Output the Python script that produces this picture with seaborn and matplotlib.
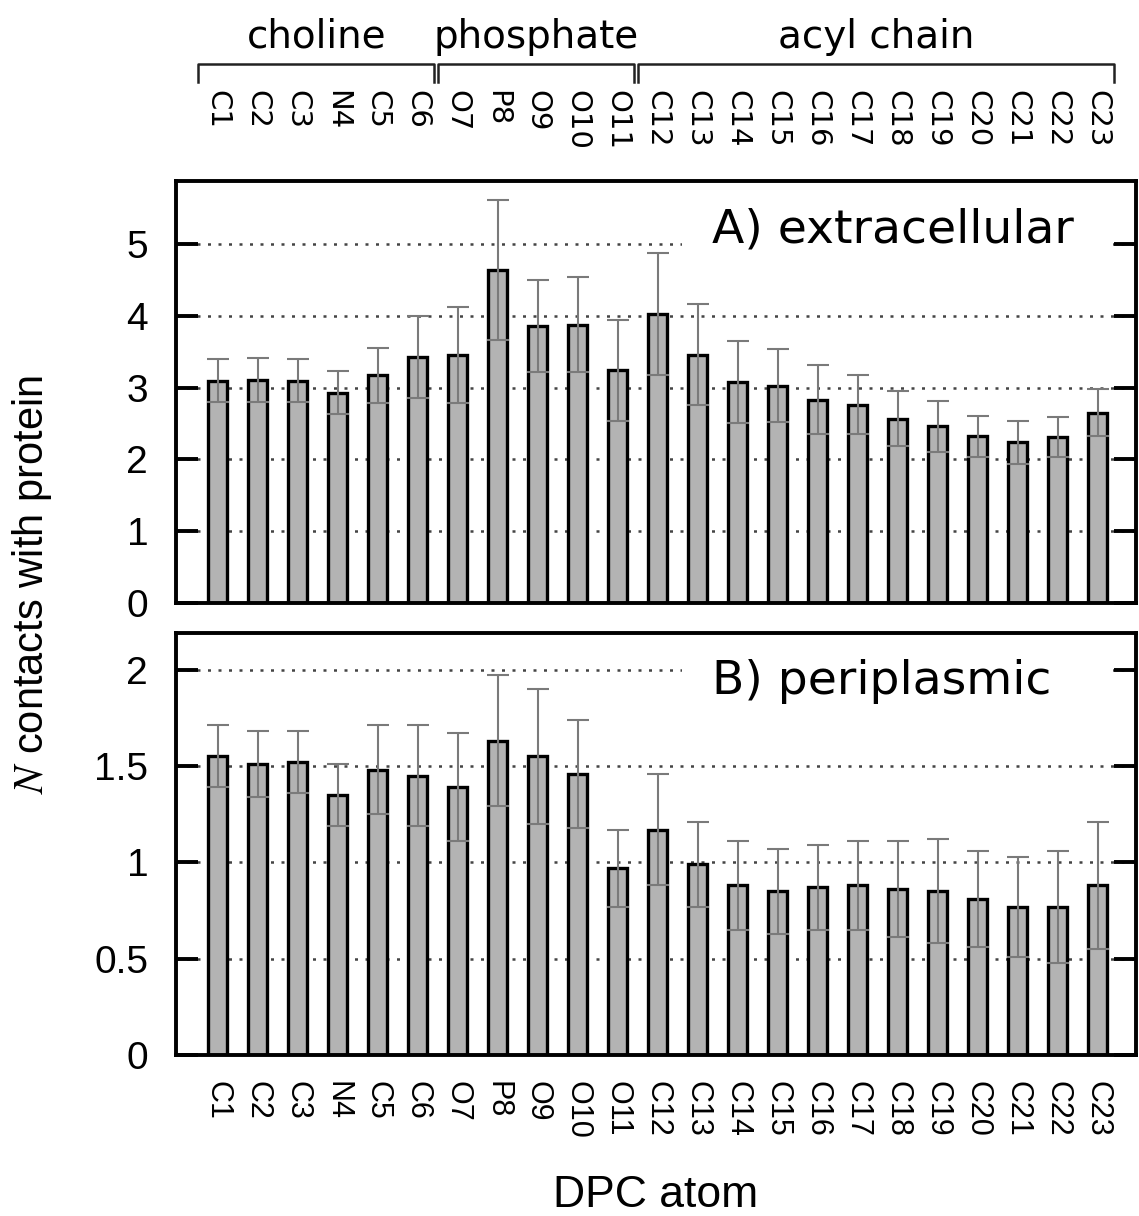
import matplotlib
matplotlib.use("Agg")
import matplotlib.pyplot as plt
import matplotlib.transforms as mtransforms
from matplotlib.patches import Rectangle
from matplotlib.ticker import FormatStrFormatter
import seaborn as sns
import pandas as pd

atoms = ["C1", "C2", "C3", "N4", "C5", "C6", "O7", "P8", "O9", "O10", "O11",
         "C12", "C13", "C14", "C15", "C16", "C17", "C18", "C19", "C20", "C21",
         "C22", "C23"]

# A) extracellular
ext_mean = [3.10, 3.11, 3.10, 2.93, 3.17, 3.43, 3.45, 4.64, 3.86, 3.88, 3.24,
            4.03, 3.46, 3.08, 3.03, 2.83, 2.76, 2.57, 2.46, 2.32, 2.24, 2.31, 2.65]
ext_err = [0.30, 0.31, 0.30, 0.30, 0.39, 0.57, 0.67, 0.98, 0.64, 0.66, 0.71,
           0.85, 0.70, 0.57, 0.51, 0.48, 0.41, 0.38, 0.35, 0.29, 0.30, 0.28, 0.33]

# B) periplasmic
peri_mean = [1.55, 1.51, 1.52, 1.35, 1.48, 1.45, 1.39, 1.63, 1.55, 1.46, 0.97,
             1.17, 0.99, 0.88, 0.85, 0.87, 0.88, 0.86, 0.85, 0.81, 0.77, 0.77, 0.88]
peri_err = [0.16, 0.17, 0.16, 0.16, 0.23, 0.26, 0.28, 0.34, 0.35, 0.28, 0.20,
            0.29, 0.22, 0.23, 0.22, 0.22, 0.23, 0.25, 0.27, 0.25, 0.26, 0.29, 0.33]

group_names = ["choline", "phosphate", "acyl chain"]
group_first = ["C1", "O7", "C12"]
group_last = ["C6", "O11", "C23"]

panel_labels = ["A) extracellular", "B) periplasmic"]
ylims = [5.88, 2.19]
yticks = [[0, 1, 2, 3, 4, 5], [0, 0.5, 1, 1.5, 2]]

bar_color = "#b3b3b3"
err_color = "#7a7a7a"

fig = plt.figure(figsize=(11.39, 12.16), dpi=100)
W, H = 1139, 1216
left, right = 176 / W, 1136 / W
ax_a = fig.add_axes([left, 1 - 603 / H, right - left, 422 / H])
ax_b = fig.add_axes([left, 1 - 1055 / H, right - left, 422 / H])

panels = [(ax_a, ext_mean, ext_err), (ax_b, peri_mean, peri_err)]
for i, (ax, mean, err) in enumerate(panels):
    df = pd.DataFrame({"atom": atoms, "n": mean, "err": err})
    sns.barplot(data=df, x="atom", y="n", order=atoms, color=bar_color,
                saturation=1, width=0.47, edgecolor="black", linewidth=2.4,
                errorbar=None, ax=ax, zorder=2)
    ax.errorbar(range(len(atoms)), df["n"], yerr=df["err"], fmt="none",
                ecolor=err_color, elinewidth=1.5, capsize=7.8, capthick=1.5,
                zorder=3)
    ax.set_xlim(-1.04, 22.96)
    ax.set_ylim(0, ylims[i])
    ax.set_yticks(yticks[i])
    ax.yaxis.set_major_formatter(FormatStrFormatter("%g"))
    ax.set_xlabel("")
    ax.set_ylabel("")
    ax.set_axisbelow(True)
    ax.yaxis.grid(True, linestyle=(0, (1.2, 3.0)), linewidth=1.8, color="#444444")
    ax.tick_params(axis="y", direction="in", length=16, width=2.8, pad=20,
                   right=True, labelsize=28)
    for lab in ax.get_yticklabels():
        lab.set_fontfamily("Liberation Sans")
    ax.tick_params(axis="x", length=0)
    for sp in ax.spines.values():
        sp.set_linewidth(2.8)
        sp.set_zorder(4)
    # white box behind the panel label (hides the grid line)
    ax.add_patch(Rectangle((0.527, 0.80), 0.449, 0.19, transform=ax.transAxes,
                           facecolor="white", edgecolor="none", zorder=1))
    ax.text(0.558, 0.855, panel_labels[i], transform=ax.transAxes,
            ha="left", va="baseline", fontsize=34, family="DejaVu Sans", zorder=5)

ax_a.set_xticklabels([])
ax_b.set_xticks(range(len(atoms)))
ax_b.set_xticklabels(atoms, rotation=270, fontsize=22, family="Liberation Sans")
ax_b.tick_params(axis="x", pad=19)

# atom labels and group brackets above the top panel
trans = mtransforms.blended_transform_factory(ax_a.transData, fig.transFigure)
for k, a in enumerate(atoms):
    ax_a.text(k, 1 - 90 / H, a, transform=trans, rotation=270, ha="center",
              va="top", fontsize=21, family="DejaVu Sans", clip_on=False)

y_line, y_end = 1 - 64 / H, 1 - 82 / H
for name, first, last in zip(group_names, group_first, group_last):
    x0 = atoms.index(first) - 0.48
    x1 = atoms.index(last) + 0.42
    ax_a.plot([x0, x0, x1, x1], [y_end, y_line, y_line, y_end], transform=trans,
              color="#222222", linewidth=1.8, clip_on=False)
    ax_a.text((x0 + x1) / 2, 1 - 48 / H, name, transform=trans, ha="center",
              va="baseline", fontsize=28, family="DejaVu Sans", clip_on=False)

plt.rcParams["mathtext.fontset"] = "stix"
fig.text(0.028, 1 - 585 / H, r"$N$ contacts with protein", rotation=90,
         ha="center", va="center", fontsize=30, family="Liberation Sans")
fig.text((left + right) / 2, 1 - 1207 / H, "DPC atom", ha="center",
         va="baseline", fontsize=32, family="Liberation Sans")

fig.savefig("out.png", dpi=100)
